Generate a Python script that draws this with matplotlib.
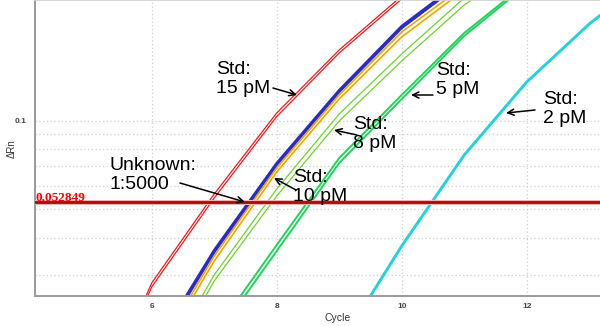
import matplotlib
matplotlib.use("Agg")
import matplotlib.pyplot as plt
from matplotlib.ticker import FixedLocator, NullFormatter

# ---------- data (dRn per cycle) ----------
std15_cycles = [5, 6, 7, 8, 9, 10]
std15_rep1 = [0.00926, 0.02811, 0.05637, 0.1062, 0.1739, 0.2651]
std15_rep2 = [0.00891, 0.02725, 0.05463, 0.1033, 0.1698, 0.2590]

unknown_cycles = [6, 7, 8, 9, 10, 11]
unknown_rep1 = [0.01639, 0.03638, 0.07184, 0.1271, 0.2097, 0.3029]
unknown_rep2 = [0.01601, 0.03568, 0.07073, 0.1252, 0.2064, 0.2982]

std10_cycles = [6, 7, 8, 9, 10, 11]
std10_rep1 = [0.01516, 0.03472, 0.06909, 0.1223, 0.2001, 0.2867]
std10_rep2 = [0.01458, 0.03339, 0.06696, 0.1185, 0.1924, 0.2779]

std8_cycles = [6, 7, 8, 9, 10, 11, 12]
std8_rep1 = [0.01276, 0.02994, 0.05862, 0.1054, 0.1685, 0.2610, 0.3653]
std8_rep2 = [0.01199, 0.02855, 0.05550, 0.09977, 0.1595, 0.2471, 0.3458]

std5_cycles = [7, 8, 9, 10, 11, 12]
std5_rep1 = [0.01901, 0.03784, 0.07469, 0.1223, 0.1985, 0.2935]
std5_rep2 = [0.01814, 0.03610, 0.07184, 0.1185, 0.1940, 0.2889]

std2_cycles = [9, 10, 11, 12, 13, 14]
std2_rep1 = [0.01718, 0.03754, 0.07646, 0.1353, 0.2130, 0.3124]

threshold = 0.052849

x_ticks = [6, 8, 10, 12]
y_major = [0.1]
y_minor = [0.03, 0.04, 0.05, 0.06, 0.07, 0.08, 0.09]

W, H = 600, 326
SANS = "Liberation Sans"


def px(x, y_top):
    # pixel position measured from the top-left -> figure fraction
    return x / W, (H - y_top) / H


fig = plt.figure(figsize=(W / 100, H / 100), dpi=100)
ax = fig.add_axes([35 / W, 30 / H, 565 / W, 296 / H])
ax.set_yscale("log")
ax.set_xlim(4.133, 13.173)
ax.set_ylim(0.02540, 0.2570)

# grid
ax.set_xticks(x_ticks)
ax.set_yticks(y_major)
ax.set_yticklabels(["0.1"])
ax.yaxis.set_minor_locator(FixedLocator(y_minor))
ax.yaxis.set_minor_formatter(NullFormatter())
grid_kw = dict(color="#cfcfcf", linestyle=(0, (1, 2)), linewidth=0.9)
ax.grid(True, which="major", **grid_kw)
ax.grid(True, which="minor", axis="y", **grid_kw)
ax.set_axisbelow(True)

ax.tick_params(axis="both", which="both", length=0)
ax.tick_params(axis="x", pad=5)
ax.tick_params(axis="y", pad=6)
for lab in ax.get_xticklabels() + ax.get_yticklabels():
    lab.set_fontsize(6)
    lab.set_fontweight("bold")
    lab.set_color("#444444")
    lab.set_family(SANS)

for side in ("left", "bottom"):
    ax.spines[side].set_color("#9a9a9a")
    ax.spines[side].set_linewidth(1.4)
ax.spines["top"].set_color("#d0d0d0")
ax.spines["top"].set_linewidth(1.2)
ax.spines["right"].set_visible(False)

# curves (replicates drawn as twin lines)
ax.plot(std15_cycles, std15_rep1, color="#f01c1c", lw=0.9)
ax.plot(std15_cycles, std15_rep2, color="#f01c1c", lw=0.9)
ax.plot(unknown_cycles, unknown_rep1, color="#2b2bc6", lw=1.7)
ax.plot(unknown_cycles, unknown_rep2, color="#2b2bc6", lw=1.7)
ax.plot(std10_cycles, std10_rep1, color="#f0a800", lw=1.2)
ax.plot(std10_cycles, std10_rep2, color="#f0a800", lw=1.2)
ax.plot(std8_cycles, std8_rep1, color="#6cd42a", lw=0.9)
ax.plot(std8_cycles, std8_rep2, color="#6cd42a", lw=0.9)
ax.plot(std5_cycles, std5_rep1, color="#1fd45a", lw=1.4)
ax.plot(std5_cycles, std5_rep2, color="#1fd45a", lw=1.4)
ax.plot(std2_cycles, std2_rep1, color="#22d2de", lw=2.1)

# threshold
ax.axhline(threshold, color="#f2b0b0", lw=3.6, zorder=4)
ax.axhline(threshold, color="#a80808", lw=2.0, zorder=5)
fig.text(*px(35, 201), f"{threshold:.6f}", color="#ff0000", fontsize=9.5,
         family="Liberation Serif", fontweight="bold", va="baseline", ha="left", zorder=6)

# annotations
labels = [
    ("Std:\n15 pM", 216, 61),
    ("Unknown:\n1:5000", 110, 157),
    ("Std:\n10 pM", 293, 169),
    ("Std:\n8 pM", 353, 116),
    ("Std:\n5 pM", 436, 62),
    ("Std:\n2 pM", 543, 91),
]
for text, x, y in labels:
    fig.text(*px(x, y), text, fontsize=14, family=SANS, color="black",
             ha="left", va="top", linespacing=1.15, zorder=7)

arrows = [
    ((273, 88), (297, 95)),
    ((180, 183), (245, 202)),
    ((296, 190), (274, 178)),
    ((357, 135), (334, 130)),
    ((433, 95), (411, 95)),
    ((535, 110), (506, 113)),
]
for (x0, y0), (x1, y1) in arrows:
    ax.annotate("", xy=(x1, H - y1), xytext=(x0, H - y0),
                xycoords="figure pixels", textcoords="figure pixels",
                arrowprops=dict(arrowstyle="->,head_length=0.45,head_width=0.22",
                                color="black", lw=1.1, shrinkA=0, shrinkB=0),
                zorder=7)

fig.text(*px(12, 149), "\u0394Rn", rotation=90, fontsize=7, family=SANS,
         color="#333333", ha="center", va="center")
fig.text(*px(338, 318), "Cycle", fontsize=7.5, family=SANS,
         color="#333333", ha="center", va="center")

fig.savefig("out.png", dpi=100)
